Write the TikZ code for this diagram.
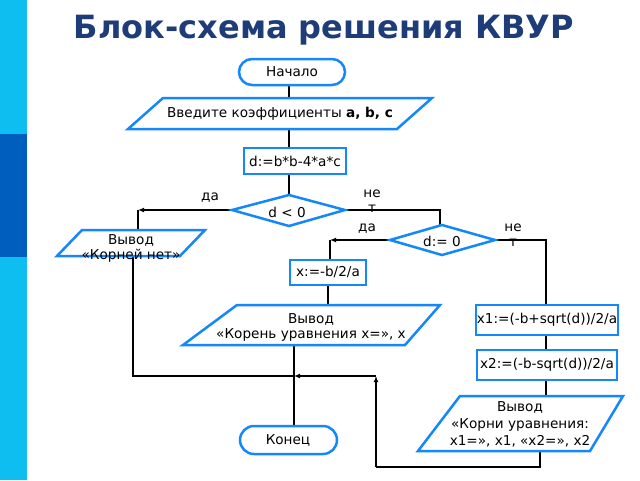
\documentclass[tikz,border=0pt]{standalone}
\usepackage{fontspec}
\setmainfont{DejaVu Sans}
\usetikzlibrary{arrows.meta}
\definecolor{bord}{RGB}{20,135,250}
\definecolor{ttl}{RGB}{30,60,120}
\definecolor{darkb}{RGB}{0,95,190}
\definecolor{lightb}{RGB}{15,190,240}
\begin{document}
\begin{tikzpicture}[x=1pt,y=-1pt,
  shp/.style={draw=bord,line width=2.5pt,fill=white},
  lbl/.style={font=\fontsize{13.6}{15}\selectfont,align=center,inner sep=0pt},
  ln/.style={line width=1.6pt},
  arr/.style={ln,-{Latex[length=6pt,width=5pt]}}]
\useasboundingbox (0,0) rectangle (640,480);
\fill[white] (0,0) rectangle (640,480);
\fill[lightb] (0,0) rectangle (27,480);
\fill[darkb] (0,134) rectangle (27,257);
\node[font=\fontsize{32}{36}\selectfont\bfseries,text=ttl] (title) at (324,30) {Блок-схема решения КВУР};
% main vertical
\coordinate (v1) at (289,85);
\coordinate (v2) at (289,195);
\draw[ln] (v1) -- (v2);
% d<0 branches
\coordinate (dl) at (232,210);
\coordinate (dlc) at (138,210);
\coordinate (dr) at (345,210);
\coordinate (drc) at (440,210);
\coordinate (d0t) at (440,225);
\draw[arr] (dl) -- (dlc);
\draw[ln] (dlc) -- (138,230);
\draw[ln] (dr) -- (drc) -- (d0t);
\coordinate (el) at (390,240);
\coordinate (elc) at (330,240);
\draw[arr] (el) -- (elc);
\draw[ln] (elc) -- (330,260);
\coordinate (er) at (495,240);
\draw[ln] (er) -- (546,240) -- (546,305);
\draw[ln] (328,285) -- (328,305);
\draw[ln] (546,335) -- (546,350);
\draw[ln] (546,380) -- (546,396);
% bottom paths
\coordinate (lb) at (133,256);
\coordinate (lbc) at (133,376);
\coordinate (jn) at (294,376);
\draw[ln] (lb) -- (lbc) -- (jn);
\coordinate (rb) at (540,451);
\coordinate (rbc) at (540,467);
\coordinate (rbl) at (376,467);
\coordinate (rbu) at (376,376);
\draw[ln] (rb) -- (rbc) -- (rbl);
\draw[arr] (rbl) -- (rbu);
\draw[arr] (rbu) -- (jn);
\draw[ln] (294,345) -- (294,426);
% shapes
\draw[shp,rounded corners=13pt] (239,59) rectangle (345,85);
\node[lbl] (start) at (292,72) {Начало};
\draw[shp] (163,98) -- (432,98) -- (397,129) -- (128,129) -- cycle;
\node[lbl] (inp) at (280,114) {Введите коэффициенты \textbf{a, b, c}};
\draw[shp] (244,148) rectangle (346,174);
\node[lbl] (disc) at (295,161) {d:=b*b-4*a*c};
\draw[shp] (232,210) -- (289,195) -- (345,210) -- (289,226) -- cycle;
\node[lbl] (dlt) at (287,212) {d < 0};
\node[lbl] at (210,198) {да};
\node[lbl,align=center] at (372,201) {не\\т};
\draw[shp] (82,230) -- (205,230) -- (180,256) -- (57,256) -- cycle;
\node[lbl] (noroot) at (131,248) {Вывод\\«Корней нет»};
\draw[shp] (390,240) -- (442,225) -- (495,240) -- (442,255) -- cycle;
\node[lbl] (deq) at (442,241) {d:= 0};
\node[lbl] at (367,229) {да};
\node[lbl,align=center] at (513,235) {не\\т};
\draw[shp] (290,260) rectangle (366,285);
\node[lbl] (x0) at (328,272) {x:=-b/2/a};
\draw[shp] (237,305) -- (440,305) -- (405,345) -- (183,345) -- cycle;
\node[lbl] (out1) at (311,327) {Вывод\\«Корень уравнения x=», x};
\draw[shp] (476,305) rectangle (618,335);
\node[lbl] (x1) at (547,320) {x1:=(-b+sqrt(d))/2/a};
\draw[shp] (477,350) rectangle (617,380);
\node[lbl] (x2) at (547,365) {x2:=(-b-sqrt(d))/2/a};
\draw[shp] (460,396) -- (623,396) -- (590,451) -- (418,451) -- cycle;
\node[lbl,font=\fontsize{13.6}{17}\selectfont] (out2) at (520,424) {Вывод\\«Корни уравнения:\\x1=», x1, «x2=», x2};
\draw[shp,rounded corners=14pt] (240,426) rectangle (337,454);
\node[lbl] (end) at (288,440) {Конец};
\end{tikzpicture}
\end{document}
